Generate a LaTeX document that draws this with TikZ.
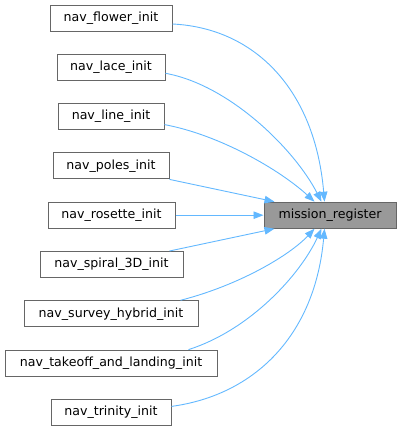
\documentclass[tikz,border=0pt]{standalone}
\usepackage{fontspec}
\setmainfont{DejaVu Sans}
\usetikzlibrary{arrows.meta,calc}
\definecolor{boxdraw}{HTML}{666666}
\definecolor{mrfill}{HTML}{999999}
\definecolor{edgeblue}{HTML}{63B8FF}
\begin{document}
\begin{tikzpicture}[x=1pt,y=-1pt,
  fn/.style={draw=boxdraw, fill=white, line width=1pt, inner sep=0pt, minimum height=26pt, font=\fontsize{12.6}{14}\selectfont},
  mrbox/.style={fn, fill=mrfill},
  edge/.style={draw=edgeblue, line width=0.9pt, -{Triangle[length=10pt,width=7.5pt]}}]
\useasboundingbox (0,0) rectangle (401,431);
\node[fn, minimum width=122pt] (flower) at (111,18) {nav\_flower\_init};
\node[fn, minimum width=108pt] (lace) at (111,67.3) {nav\_lace\_init};
\node[fn, minimum width=106pt] (line) at (111,116.6) {nav\_line\_init};
\node[fn, minimum width=116pt] (poles) at (111,165.9) {nav\_poles\_init};
\node[fn, minimum width=127pt] (rosette) at (111.5,215.2) {nav\_rosette\_init};
\node[fn, minimum width=143pt] (spiral) at (111.5,264.5) {nav\_spiral\_3D\_init};
\node[fn, minimum width=174pt] (survey) at (111,313.8) {nav\_survey\_hybrid\_init};
\node[fn, minimum width=212pt] (takeoff) at (111,363.1) {nav\_takeoff\_and\_landing\_init};
\node[fn, minimum width=120pt] (trinity) at (111,412.4) {nav\_trinity\_init};
\node[mrbox, minimum width=132pt] (mr) at (330,215.2) {mission\_register};
% upper edges
\draw[edge] ($(flower.east)+(0,6)$) .. controls (255,28) and (315,90) .. ($(mr.north west)+(61,0)$);
\draw[edge] ($(lace.east)+(0,6)$) .. controls (230,85) and (295,150) .. ($(mr.north west)+(58,0)$);
\draw[edge] ($(line.east)+(0,8)$) .. controls (220,135) and (280,170) .. ($(mr.north west)+(51,0)$);
\draw[edge] (poles.south east) -- ($(mr.north west)+(11,0)$);
\draw[edge] (rosette.east) -- (mr.west);
% lower edges
\draw[edge] ($(spiral.north east)+(-14,0)$) -- ($(mr.south west)+(11,0)$);
\draw[edge] ($(survey.north east)+(-18,0)$) .. controls (240,285) and (290,255) .. ($(mr.south west)+(51,0)$);
\draw[edge] ($(takeoff.north east)+(-29,0)$) .. controls (250,330) and (300,275) .. ($(mr.south west)+(58,0)$);
\draw[edge] ($(trinity.east)+(0,-6)$) .. controls (255,395) and (315,335) .. ($(mr.south west)+(61,0)$);
\end{tikzpicture}
\end{document}
